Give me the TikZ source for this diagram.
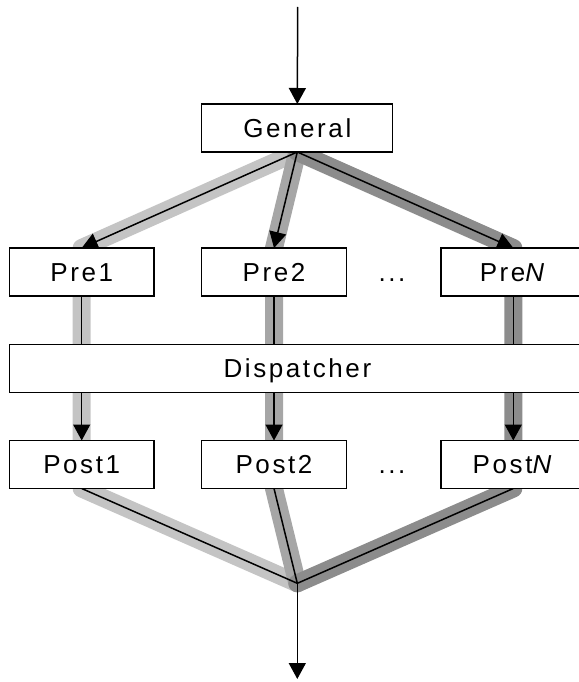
\documentclass[tikz,border=0pt]{standalone}
\usepackage{fontspec}
\setmainfont{Liberation Sans}[LetterSpace=10]
\usetikzlibrary{arrows.meta}
\definecolor{bandA}{gray}{0.77}
\definecolor{bandB}{gray}{0.65}
\definecolor{bandC}{gray}{0.55}
\pgfdeclarelayer{bg}
\pgfsetlayers{bg,main}
\begin{document}
\begin{tikzpicture}[x=1pt,y=-1pt,
  lbl/.style={inner sep=0pt, outer sep=0pt, text height=18.6pt, text depth=0pt, font=\fontsize{26}{30}\selectfont},
  box/.style={lbl, draw, line width=1.3pt, fill=white, minimum height=48pt},
  smallbox/.style={box, minimum width=144.5pt},
  conn/.style={line width=1.5pt},
  arr/.style={conn, -{Triangle[length=16pt,width=17pt]}},
  band/.style={line width=18pt, line join=round, line cap=round}]
\useasboundingbox (0,0) rectangle (578,682);
% nodes
\node[box, minimum width=191pt] (gen) at (297.3,128) {General};
\node[smallbox] (pre1) at (81.7,272) {Pre1};
\node[smallbox] (pre2) at (274,272) {Pre2};
\node[smallbox] (preN) at (513.3,272) {Pre\textit{N}};
\node[lbl] (dots1) at (392,272) {...};
\node[box, minimum width=576pt] (disp) at (297.4,368.3) {Dispatcher};
\node[smallbox] (post1) at (81.7,464.5) {Post1};
\node[smallbox] (post2) at (274,464.5) {Post2};
\node[smallbox] (postN) at (513.3,464.5) {Post\textit{N}};
\node[lbl] (dots2) at (392,464.5) {...};
\coordinate (top) at (297.7,7);
\coordinate (j) at (297.3,583.3);
\coordinate (bot) at (297.3,679);
\begin{pgfonlayer}{bg}
% flow bands
\draw[band, bandA] (gen.south) -- (pre1.north) -- (post1.south) -- (j);
\draw[band, bandB] (gen.south) -- (pre2.north) -- (post2.south) -- (j);
\draw[band, bandC] (gen.south) -- (preN.north) -- (postN.south) -- (j);
% connectors
\draw[arr] (top) -- (gen.north);
\draw[arr] (gen.south) -- (pre1.north);
\draw[arr] (gen.south) -- (pre2.north);
\draw[arr] (gen.south) -- (preN.north);
\draw[arr] (pre1.south) -- (post1.north);
\draw[arr] (pre2.south) -- (post2.north);
\draw[arr] (preN.south) -- (postN.north);
\draw[conn] (post1.south) -- (j);
\draw[conn] (post2.south) -- (j);
\draw[conn] (postN.south) -- (j);
\draw[arr] (j) -- (bot);
\end{pgfonlayer}
\end{tikzpicture}
\end{document}
